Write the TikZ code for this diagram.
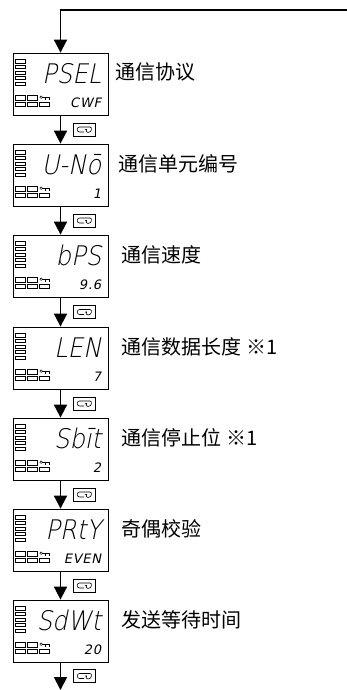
\documentclass[tikz,border=0pt]{standalone}
\usepackage{fontspec}
\usepackage{tikz}
\usetikzlibrary{positioning,arrows.meta}

\newfontfamily\cjk{Noto Sans CJK SC}
\newfontfamily\segbig[FakeSlant=0.2,FakeStretch=0.9]{DejaVu Sans ExtraLight}
\newfontfamily\segsmall[FakeSlant=0.2,LetterSpace=6]{DejaVu Sans}

\tikzset{
	panel/.style={draw, line width=0.8pt, minimum width=95pt, minimum height=62pt, inner sep=0pt},
	lamps/.pic={
		\begin{scope}[line width=0.45pt]
			\foreach \k in {0,...,4}
				\draw (3,7+5.6*\k) rectangle ++(9.5,3.2);
			\draw (3,43) rectangle ++(9.5,4.3) (15,43) rectangle ++(9.5,4.3);
			\draw (3,49.5) rectangle ++(9.5,4.3) (15,49.5) rectangle ++(9.5,4.3) (27,49.5) rectangle ++(9.5,4.3);
			\draw (28.5,44.6) circle[radius=1.3];
			\draw (29.8,44.6) -- (36.5,44.6) -- (36.5,47.3) (33,44.6) -- (33,47.3);
		\end{scope}
	},
	keybox/.style={draw, line width=0.6pt, minimum width=22pt, minimum height=13pt, inner sep=0pt,
		path picture={
			\draw[line width=0.6pt] (6,-2.5) -- (-4.5,-2.5) .. controls (-7.5,-2.5) and (-7.5,2.5) .. (-4.5,2.5) -- (0,2.5);
			\draw[line width=0.6pt, -{Stealth[length=2pt,width=2.5pt]}] (6,-2.5) .. controls (8.5,-2.5) and (8,3) .. (4,3) .. controls (2,3) and (1.5,1) .. (3,-0.5);
		}},
	flow/.style={line width=1.8pt, -{Triangle[width=13pt,length=13pt]}},
	bigseg/.style={inner sep=0pt, font=\segbig\fontsize{27}{27}\selectfont},
	smallseg/.style={inner sep=0pt, font=\segsmall\fontsize{13}{13}\selectfont},
	tag/.style={inner sep=0pt, font=\cjk\fontsize{20}{22}\selectfont}
}

\begin{document}
\begin{tikzpicture}[x=1pt, y=-1pt]
	\useasboundingbox (0,0) rectangle (347,690);

	% display panels
	\node[panel] (b1) at (60.5,84) {};
	\node[panel] (b2) at (60.5,175) {};
	\node[panel] (b3) at (60.5,266) {};
	\node[panel] (b4) at (60.5,358) {};
	\node[panel] (b5) at (60.5,449) {};
	\node[panel] (b6) at (60.5,540) {};
	\node[panel] (b7) at (60.5,631) {};
	\pic at (b1.north west) {lamps};
	\pic at (b2.north west) {lamps};
	\pic at (b3.north west) {lamps};
	\pic at (b4.north west) {lamps};
	\pic at (b5.north west) {lamps};
	\pic at (b6.north west) {lamps};
	\pic at (b7.north west) {lamps};

	% upper and lower readings
	\node[bigseg, anchor=base east] (p1) at ([xshift=-7pt,yshift=-31pt]b1.north east) {PSEL};
	\node[smallseg, anchor=base east] (v1) at ([xshift=-7pt,yshift=-55pt]b1.north east) {CWF};
	\node[bigseg, anchor=base east] (p2) at ([xshift=-7pt,yshift=-31pt]b2.north east) {U-Nō};
	\node[smallseg, anchor=base east] (v2) at ([xshift=-7pt,yshift=-55pt]b2.north east) {1};
	\node[bigseg, anchor=base east] (p3) at ([xshift=-7pt,yshift=-31pt]b3.north east) {bPS};
	\node[smallseg, anchor=base east] (v3) at ([xshift=-7pt,yshift=-55pt]b3.north east) {9.6};
	\node[bigseg, anchor=base east] (p4) at ([xshift=-7pt,yshift=-31pt]b4.north east) {LEN};
	\node[smallseg, anchor=base east] (v4) at ([xshift=-7pt,yshift=-55pt]b4.north east) {7};
	\node[bigseg, anchor=base east] (p5) at ([xshift=-7pt,yshift=-31pt]b5.north east) {Sbīt};
	\node[smallseg, anchor=base east] (v5) at ([xshift=-7pt,yshift=-55pt]b5.north east) {2};
	\node[bigseg, anchor=base east] (p6) at ([xshift=-7pt,yshift=-31pt]b6.north east) {PRtY};
	\node[smallseg, anchor=base east] (v6) at ([xshift=-7pt,yshift=-55pt]b6.north east) {EVEN};
	\node[bigseg, anchor=base east] (p7) at ([xshift=-7pt,yshift=-31pt]b7.north east) {SdWt};
	\node[smallseg, anchor=base east] (v7) at ([xshift=-7pt,yshift=-55pt]b7.north east) {20};

	% names
	\node[tag, right=7pt of b1.north east, yshift=-19pt] (l1) {通信协议};
	\node[tag, right=10pt of b2.north east, yshift=-20pt] (l2) {通信单元编号};
	\node[tag, right=13pt of b3.north east, yshift=-20pt] (l3) {通信速度};
	\node[tag, right=13pt of b4.north east, yshift=-20pt] (l4) {通信数据长度 ※1};
	\node[tag, right=13pt of b5.north east, yshift=-20pt] (l5) {通信停止位 ※1};
	\node[tag, right=13pt of b6.north east, yshift=-20pt] (l6) {奇偶校验};
	\node[tag, right=13pt of b7.north east, yshift=-20pt] (l7) {发送等待时间};

	% mode keys
	\node[keybox] (k1) at (84,129.5) {};
	\node[keybox] (k2) at (84,220.5) {};
	\node[keybox] (k3) at (84,312) {};
	\node[keybox] (k4) at (84,403.5) {};
	\node[keybox] (k5) at (84,494.5) {};
	\node[keybox] (k6) at (84,585.5) {};
	\node[keybox] (k7) at (84,676) {};

	% flow
	\coordinate (back) at (347,10);
	\coordinate (out) at (60.5,690);
	\draw[flow] (back) -| (b1.north);
	\draw[flow] (b1.south) -- (b2.north);
	\draw[flow] (b2.south) -- (b3.north);
	\draw[flow] (b3.south) -- (b4.north);
	\draw[flow] (b4.south) -- (b5.north);
	\draw[flow] (b5.south) -- (b6.north);
	\draw[flow] (b6.south) -- (b7.north);
	\draw[flow] (b7.south) -- (out);
\end{tikzpicture}
\end{document}
